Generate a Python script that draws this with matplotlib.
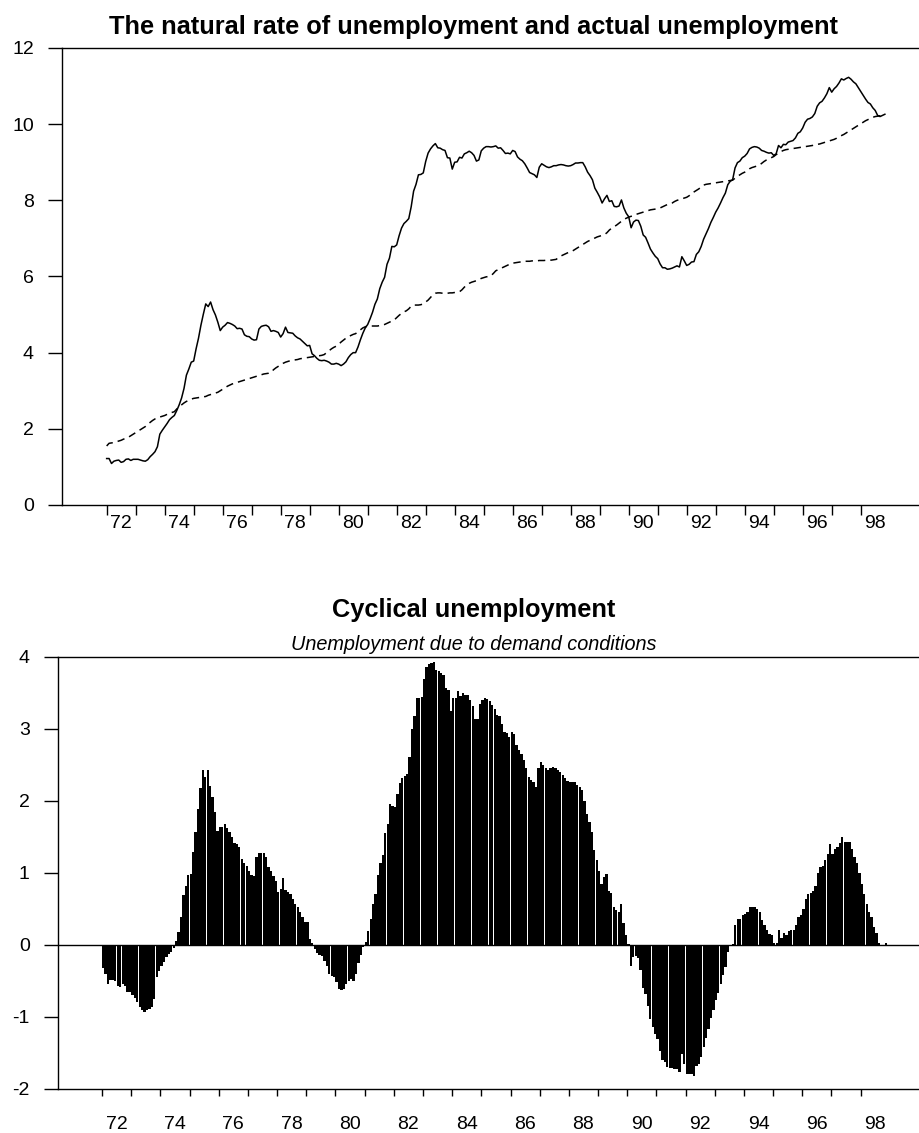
import matplotlib
matplotlib.use("Agg")
import matplotlib.pyplot as plt
import numpy as np

plt.rcParams['font.family'] = ['Liberation Sans', 'DejaVu Sans']
plt.rcParams['axes.unicode_minus'] = False

# ---- data: monthly, Jan 1972 .. Nov 1998 ----
start_year = 1972
# natural rate of unemployment (%)
natural = [
    1.55, 1.62, 1.63, 1.64, 1.66, 1.68, 1.70, 1.73, 1.75, 1.78, 1.82, 1.86,
    1.90, 1.94, 1.98, 2.02, 2.06, 2.12, 2.17, 2.22, 2.26, 2.28, 2.31, 2.33,
    2.35, 2.38, 2.41, 2.43, 2.45, 2.52, 2.58, 2.63, 2.68, 2.72, 2.75, 2.78,
    2.80, 2.81, 2.82, 2.83, 2.84, 2.85, 2.88, 2.90, 2.92, 2.94, 2.96, 3.00,
    3.04, 3.08, 3.12, 3.15, 3.18, 3.20, 3.22, 3.24, 3.26, 3.28, 3.30, 3.32,
    3.34, 3.36, 3.38, 3.40, 3.42, 3.44, 3.45, 3.46, 3.48, 3.55, 3.60, 3.64,
    3.68, 3.72, 3.75, 3.77, 3.79, 3.80, 3.81, 3.82, 3.84, 3.85, 3.86, 3.87,
    3.88, 3.89, 3.90, 3.91, 3.92, 3.93, 3.95, 4.00, 4.05, 4.10, 4.14, 4.17,
    4.22, 4.28, 4.33, 4.38, 4.42, 4.45, 4.48, 4.50, 4.55, 4.60, 4.65, 4.68,
    4.70, 4.70, 4.70, 4.70, 4.70, 4.71, 4.72, 4.74, 4.77, 4.80, 4.83, 4.86,
    4.92, 4.98, 5.03, 5.07, 5.10, 5.15, 5.22, 5.25, 5.25, 5.25, 5.26, 5.28,
    5.33, 5.38, 5.45, 5.52, 5.56, 5.57, 5.57, 5.56, 5.56, 5.56, 5.57, 5.57,
    5.58, 5.59, 5.60, 5.65, 5.72, 5.78, 5.82, 5.85, 5.87, 5.89, 5.92, 5.95,
    5.97, 5.99, 6.00, 6.02, 6.08, 6.15, 6.18, 6.21, 6.24, 6.27, 6.30, 6.33,
    6.35, 6.36, 6.37, 6.38, 6.39, 6.40, 6.40, 6.40, 6.41, 6.41, 6.41, 6.42,
    6.42, 6.42, 6.43, 6.43, 6.43, 6.44, 6.45, 6.50, 6.54, 6.57, 6.60, 6.63,
    6.65, 6.68, 6.72, 6.76, 6.80, 6.84, 6.88, 6.92, 6.95, 6.98, 7.01, 7.04,
    7.06, 7.08, 7.10, 7.15, 7.22, 7.27, 7.31, 7.35, 7.40, 7.45, 7.50, 7.53,
    7.56, 7.58, 7.60, 7.63, 7.65, 7.67, 7.69, 7.71, 7.73, 7.75, 7.76, 7.77,
    7.78, 7.80, 7.83, 7.86, 7.89, 7.91, 7.93, 7.97, 8.00, 8.02, 8.04, 8.06,
    8.08, 8.12, 8.18, 8.22, 8.26, 8.30, 8.35, 8.40, 8.42, 8.43, 8.44, 8.45,
    8.46, 8.47, 8.48, 8.49, 8.50, 8.51, 8.52, 8.53, 8.58, 8.63, 8.67, 8.71,
    8.74, 8.78, 8.83, 8.86, 8.88, 8.90, 8.92, 8.97, 9.02, 9.06, 9.09, 9.12,
    9.15, 9.20, 9.24, 9.28, 9.31, 9.33, 9.34, 9.35, 9.36, 9.37, 9.38, 9.39,
    9.40, 9.41, 9.42, 9.43, 9.44, 9.46, 9.47, 9.48, 9.50, 9.52, 9.54, 9.56,
    9.58, 9.60, 9.63, 9.67, 9.70, 9.73, 9.77, 9.81, 9.85, 9.89, 9.93, 9.97,
    10.01, 10.05, 10.09, 10.12, 10.15, 10.18, 10.20, 10.21, 10.22, 10.23, 10.24,
]
# cyclical unemployment (actual minus natural), percentage points
cyclical = [
    -0.33, -0.40, -0.54, -0.49, -0.49, -0.50, -0.58, -0.59, -0.55, -0.57, -0.65, -0.66,
    -0.70, -0.74, -0.80, -0.86, -0.91, -0.93, -0.90, -0.89, -0.86, -0.75, -0.45, -0.37,
    -0.30, -0.24, -0.17, -0.13, -0.10, -0.04, 0.05, 0.18, 0.38, 0.69, 0.82, 0.97,
    0.98, 1.29, 1.56, 1.89, 2.17, 2.43, 2.33, 2.43, 2.21, 2.05, 1.84, 1.58,
    1.63, 1.64, 1.67, 1.62, 1.56, 1.50, 1.41, 1.40, 1.36, 1.19, 1.13, 1.10,
    1.02, 0.97, 0.96, 1.22, 1.27, 1.27, 1.27, 1.22, 1.08, 1.03, 0.96, 0.89,
    0.73, 0.78, 0.92, 0.76, 0.73, 0.71, 0.63, 0.57, 0.52, 0.45, 0.38, 0.31,
    0.31, 0.08, 0.02, -0.06, -0.12, -0.14, -0.15, -0.22, -0.30, -0.40, -0.44, -0.45,
    -0.52, -0.62, -0.63, -0.62, -0.55, -0.50, -0.48, -0.50, -0.40, -0.26, -0.14, -0.03,
    0.04, 0.19, 0.36, 0.57, 0.71, 0.97, 1.13, 1.24, 1.55, 1.68, 1.96, 1.92,
    1.91, 2.09, 2.24, 2.32, 2.35, 2.37, 2.61, 2.99, 3.17, 3.42, 3.42, 3.44,
    3.69, 3.86, 3.90, 3.91, 3.93, 3.81, 3.80, 3.77, 3.75, 3.56, 3.54, 3.25,
    3.42, 3.42, 3.53, 3.46, 3.50, 3.47, 3.47, 3.40, 3.31, 3.14, 3.14, 3.35,
    3.40, 3.42, 3.41, 3.38, 3.33, 3.28, 3.19, 3.17, 3.07, 2.96, 2.94, 2.89,
    2.96, 2.92, 2.77, 2.70, 2.65, 2.56, 2.45, 2.33, 2.29, 2.26, 2.19, 2.45,
    2.54, 2.50, 2.45, 2.43, 2.45, 2.47, 2.46, 2.43, 2.40, 2.36, 2.31, 2.27,
    2.26, 2.26, 2.26, 2.22, 2.19, 2.15, 2.00, 1.82, 1.70, 1.56, 1.31, 1.17,
    1.03, 0.85, 0.94, 0.98, 0.75, 0.72, 0.53, 0.48, 0.45, 0.56, 0.30, 0.13,
    0.01, -0.30, -0.17, -0.15, -0.18, -0.35, -0.60, -0.68, -0.85, -1.03, -1.14, -1.24,
    -1.31, -1.47, -1.60, -1.63, -1.70, -1.71, -1.71, -1.72, -1.72, -1.77, -1.52, -1.65,
    -1.79, -1.80, -1.80, -1.83, -1.68, -1.65, -1.56, -1.42, -1.30, -1.17, -1.02, -0.90,
    -0.77, -0.67, -0.55, -0.42, -0.31, -0.10, -0.02, 0.01, 0.27, 0.36, 0.36, 0.41,
    0.42, 0.45, 0.52, 0.53, 0.53, 0.50, 0.45, 0.34, 0.27, 0.20, 0.15, 0.13,
    0.03, 0.02, 0.20, 0.10, 0.16, 0.13, 0.19, 0.20, 0.21, 0.27, 0.38, 0.41,
    0.50, 0.64, 0.71, 0.72, 0.75, 0.82, 1.00, 1.08, 1.10, 1.17, 1.26, 1.40,
    1.26, 1.33, 1.36, 1.41, 1.49, 1.43, 1.43, 1.42, 1.33, 1.22, 1.13, 0.99,
    0.85, 0.71, 0.57, 0.45, 0.38, 0.25, 0.16, 0.02, -0.02, 0.00, 0.02,
]
year_ticks = list(range(1972, 1999))
year_labels = ['72', '74', '76', '78', '80', '82', '84', '86', '88', '90', '92', '94', '96', '98']
top_title = 'The natural rate of unemployment and actual unemployment'
bottom_title = 'Cyclical unemployment'
bottom_subtitle = 'Unemployment due to demand conditions'

nat = np.array(natural)
cyc = np.array(cyclical)
actual = nat + cyc
t = start_year + np.arange(len(nat)) / 12.0

W, H = 919, 1133
fig = plt.figure(figsize=(W / 100, H / 100), dpi=100)


def style_axes(ax, left_px, top_px, right_px, bottom_px, xpad, xtick_len):
    ax.set_position([left_px / W, 1 - bottom_px / H, (right_px - left_px) / W, (bottom_px - top_px) / H])
    ax.spines['right'].set_visible(False)
    for s in ['left', 'top', 'bottom']:
        ax.spines[s].set_linewidth(1.0)
        ax.spines[s].set_color('black')
    ax.set_xticks(year_ticks)
    ax.set_xticklabels([])
    label_pos = [int('19' + lab) + 0.5 for lab in year_labels]
    ax.set_xticks(label_pos, minor=True)
    ax.set_xticklabels(year_labels, minor=True)
    ax.tick_params(axis='x', which='major', direction='out', length=xtick_len, width=1.0)
    ax.tick_params(axis='x', which='minor', length=0, pad=xpad, labelsize=14)
    ax.tick_params(axis='y', which='major', direction='out', length=10.2, width=1.0, labelsize=14, pad=10)
    ax.set_facecolor('white')


# ---- top panel ----
ax1 = fig.add_axes([0, 0, 1, 1])
style_axes(ax1, 62, 48, 919, 505, xpad=7.5, xtick_len=7)
ax1.plot(t, actual, color='black', lw=1.1, solid_joinstyle='round')
ax1.plot(t, nat, color='black', lw=1.1, dashes=(4.8, 3.3))
ax1.set_xlim(1970.46, 2000.01)
ax1.set_ylim(0, 12)
ax1.set_yticks([0, 2, 4, 6, 8, 10, 12])

# ---- bottom panel ----
ax2 = fig.add_axes([0, 0, 1, 1])
style_axes(ax2, 57.7, 656.7, 919, 1088.7, xpad=19.5, xtick_len=5)
ax2.bar(t, cyc, width=0.94 / 12, align='edge', color='black', linewidth=0)
ax2.axhline(0, color='black', lw=1.0)
ax2.set_xlim(1970.48, 2000.0)
ax2.set_ylim(-2, 4)
ax2.set_yticks([-2, -1, 0, 1, 2, 3, 4])

# ---- titles ----
fig.text(474 / W, 1 - 27 / H, top_title, ha='center', va='center', fontsize=18.3, fontweight='bold')
fig.text(474 / W, 1 - 610 / H, bottom_title, ha='center', va='center', fontsize=18.3, fontweight='bold')
fig.text(474 / W, 1 - 645 / H, bottom_subtitle, ha='center', va='center', fontsize=14.3, style='italic')

fig.savefig('out.png', dpi=100, facecolor='white')
